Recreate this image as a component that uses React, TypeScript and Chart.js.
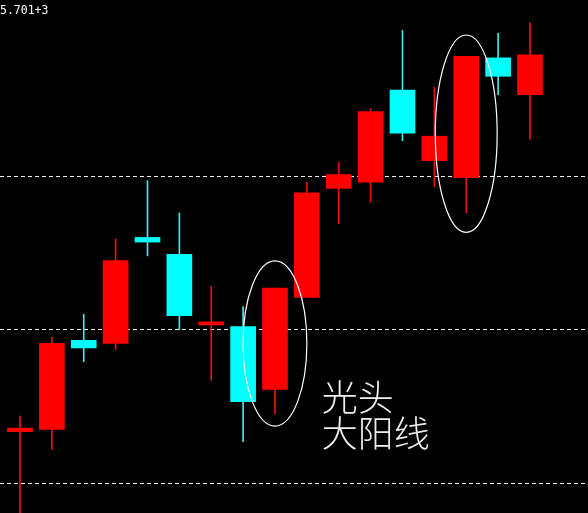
import React, { useEffect, useRef } from "react";
import { Chart, registerables } from "chart.js";

Chart.register(...registerables);

// Daily candles: open / high / low / close
const opens = [5.4335, 5.435, 5.493, 5.491, 5.560, 5.549, 5.503, 5.502, 5.461, 5.521, 5.592, 5.596, 5.656, 5.610, 5.599, 5.677, 5.653];
const highs = [5.4436, 5.495, 5.510, 5.559, 5.597, 5.576, 5.528, 5.515, 5.527, 5.596, 5.609, 5.644, 5.695, 5.658, 5.678, 5.693, 5.700];
const lows = [5.375, 5.422, 5.479, 5.487, 5.548, 5.500, 5.467, 5.427, 5.445, 5.521, 5.569, 5.583, 5.623, 5.593, 5.576, 5.653, 5.624];
const closes = [5.4358, 5.491, 5.488, 5.545, 5.557, 5.509, 5.505, 5.453, 5.527, 5.589, 5.601, 5.642, 5.628, 5.626, 5.678, 5.665, 5.679];

// Horizontal reference levels (dashed)
const gridLevels = [5.4, 5.5, 5.6];

// Header value shown top-left
const headerText = "5.701+3";

// Highlighted candles: index, top price, bottom price, half width (in candles)
const highlightIndex = [8, 14];
const highlightTop = [5.5448, 5.6919];
const highlightBottom = [5.4371, 5.5633];
const highlightHalfWidth = [1.0, 0.97];

// Caption lines anchored near the first highlight
const captionLines = ["光头", "大阳线"];
const captionX = 9.47;
const captionY = [5.4560, 5.4326];

const UP = "#ff0000";
const DOWN = "#00ffff";
const UP_WICK = "#ee1010";
const DOWN_WICK = "#40eaea";

const overlayPlugin = {
  id: "overlay",
  afterDatasetsDraw(chart: any) {
    const { ctx, scales } = chart;
    const xs = scales.x;
    const ys = scales.y;
    ctx.save();
    // ellipses around highlighted candles
    ctx.strokeStyle = "#ffffff";
    ctx.lineWidth = 1.2;
    highlightIndex.forEach((idx, k) => {
      const cx = xs.getPixelForValue(idx);
      const top = ys.getPixelForValue(highlightTop[k]);
      const bottom = ys.getPixelForValue(highlightBottom[k]);
      const rx = Math.abs(xs.getPixelForValue(idx + highlightHalfWidth[k]) - cx);
      ctx.beginPath();
      ctx.ellipse(cx, (top + bottom) / 2, rx, (bottom - top) / 2, 0, 0, Math.PI * 2);
      ctx.stroke();
    });
    // caption
    ctx.fillStyle = "#eeeeee";
    ctx.font = '300 36px "Noto Sans CJK SC", sans-serif';
    ctx.textBaseline = "middle";
    ctx.textAlign = "left";
    captionLines.forEach((line, k) => {
      ctx.fillText(line, xs.getPixelForValue(captionX), ys.getPixelForValue(captionY[k]));
    });
    // header
    ctx.fillStyle = "#ffffff";
    ctx.font = '11.5px "DejaVu Sans Mono", monospace';
    ctx.textBaseline = "alphabetic";
    ctx.fillText(headerText, 0, 14);
    ctx.restore();
  },
};

export default function App() {
  const canvasRef = useRef<HTMLCanvasElement | null>(null);

  useEffect(() => {
    const canvas = canvasRef.current;
    if (!canvas) return;
    const isUp = opens.map((o, i) => closes[i] >= o);
    const chart = new Chart(canvas, {
      type: "bar",
      data: {
        datasets: [
          {
            label: "wick",
            data: highs.map((h, i) => ({ x: i, y: [lows[i], h] })) as any,
            backgroundColor: isUp.map((u) => (u ? UP_WICK : DOWN_WICK)),
            barThickness: 1,
            grouped: false,
            borderWidth: 0,
            clip: 0 as any,
            order: 2,
          } as any,
          {
            label: "body",
            data: opens.map((o, i) => ({ x: i, y: [o, closes[i]] })) as any,
            backgroundColor: isUp.map((u) => (u ? UP : DOWN)),
            barThickness: 25,
            grouped: false,
            borderWidth: 0,
            clip: 0 as any,
            order: 1,
          } as any,
        ],
      },
      options: {
        animation: false,
        responsive: false,
        maintainAspectRatio: false,
        devicePixelRatio: 1,
        layout: { padding: 0 },
        plugins: {
          legend: { display: false },
          tooltip: { enabled: false },
        },
        scales: {
          x: {
            type: "linear",
            min: -0.627,
            max: 17.82,
            offset: false,
            display: false,
          },
          y: {
            type: "linear",
            min: 5.3805,
            max: 5.7147,
            display: true,
            ticks: { display: false },
            grid: { color: "#f4f4f4", lineWidth: 1, drawTicks: false },
            border: { display: false, dash: [4, 3] },
            afterBuildTicks: (scale: any) => {
              scale.ticks = gridLevels.map((v) => ({ value: v }));
            },
            afterFit: (scale: any) => {
              scale.width = 0;
            },
          },
        },
      } as any,
      plugins: [overlayPlugin],
    });
    return () => chart.destroy();
  }, []);

  return (
    <div
      style={{
        position: "fixed",
        left: 0,
        top: 0,
        width: 588,
        height: 513,
        background: "#000000",
      }}
    >
      <canvas ref={canvasRef} width={588} height={513} style={{ display: "block" }} />
    </div>
  );
}
